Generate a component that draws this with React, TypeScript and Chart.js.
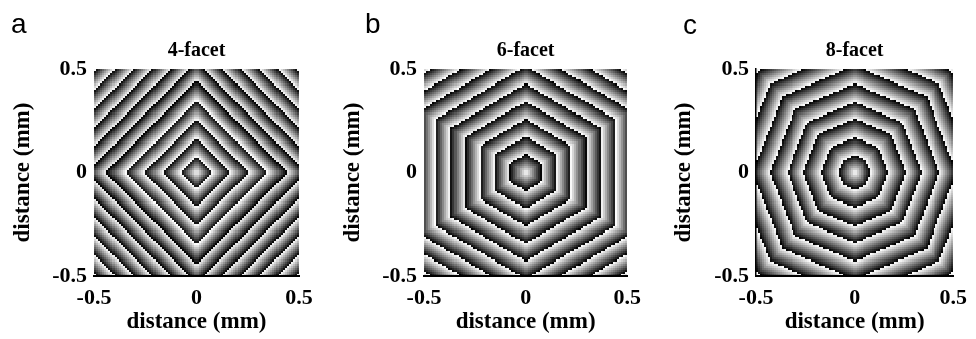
import React, { useEffect, useRef } from "react";
import { Chart, registerables } from "chart.js";

Chart.register(...registerables);

// ---------- data ----------
const PANEL_LETTERS = ["a", "b", "c"];
const PANEL_TITLES = ["4-facet", "6-facet", "8-facet"];
const FACET_COUNTS = [4, 6, 8];
// direction (deg) of one polygon vertex
const VERTEX_ANGLES_DEG = [0, 90, 0];
// ring boundaries: vertex (circum-)radius of each wrap line, in mm
const RING_EDGES_A = [0.078, 0.166, 0.256, 0.349, 0.441, 0.532, 0.623, 0.714, 0.805, 0.896, 0.987, 1.078];
const RING_EDGES_B = [0.088, 0.175, 0.258, 0.343, 0.428, 0.513, 0.598, 0.683, 0.768, 0.853];
const RING_EDGES_C = [0.083, 0.171, 0.261, 0.341, 0.430, 0.518, 0.606, 0.694, 0.782];
const RING_EDGES = [RING_EDGES_A, RING_EDGES_B, RING_EDGES_C];
const AXIS_MIN = -0.5;
const AXIS_MAX = 0.5;
const X_TICKS = [-0.5, 0, 0.5];
const Y_TICKS = [-0.5, 0, 0.5];
const TICK_LABELS = ["-0.5", "0", "0.5"];
const AXIS_TITLE = "distance (mm)";
const GRID_N = 100;

// ---------- layout / style ----------
const H = 339;
const PLOT_TOP = 69;
const PLOT_BOTTOM = 276;
const TITLE_SIZE = 20;
const TITLE_PAD_TOP = 39;
const LAYOUT = [
  { left: 0, width: 330, plotLeft: 94, plotRight: 299, letterX: 11, letterY: 33, yTitlePad: 9, letterSize: 28 },
  { left: 330, width: 320, plotLeft: 94, plotRight: 299, letterX: 35, letterY: 33, yTitlePad: 9, letterSize: 28 },
  { left: 650, width: 326, plotLeft: 106, plotRight: 311, letterX: 33, letterY: 34, yTitlePad: 20, letterSize: 28 },
];
const SERIF = "'Liberation Serif', 'Times New Roman', serif";
const SANS = "'Liberation Sans', Arial, sans-serif";

function ringBrightness(r: number, edges: number[]): number {
  let inner = 0;
  for (let i = 0; i < edges.length; i++) {
    const outer = edges[i];
    if (r < outer) return 1 - (r - inner) / (outer - inner);
    inner = outer;
  }
  return 0;
}

function buildGrid(facets: number, vertexDeg: number, edges: number[], n: number) {
  const out = new Uint8ClampedArray(n * n * 4);
  const base = (vertexDeg * Math.PI) / 180 + Math.PI / facets;
  const normals: number[][] = [];
  for (let k = 0; k < facets; k++) {
    const a = base + (2 * Math.PI * k) / facets;
    normals.push([Math.cos(a), Math.sin(a)]);
  }
  const k = 1 / Math.cos(Math.PI / facets);
  const span = AXIS_MAX - AXIS_MIN;
  for (let j = 0; j < n; j++) {
    const y = AXIS_MAX - ((j + 0.5) * span) / n;
    for (let i = 0; i < n; i++) {
      const x = AXIS_MIN + ((i + 0.5) * span) / n;
      let m = -Infinity;
      for (const [c, s] of normals) m = Math.max(m, x * c + y * s);
      const v = Math.round(ringBrightness(m * k, edges) * 255);
      const p = (j * n + i) * 4;
      out[p] = v;
      out[p + 1] = v;
      out[p + 2] = v;
      out[p + 3] = 255;
    }
  }
  return out;
}

function Panel({ index }: { index: number }) {
  const ref = useRef<HTMLCanvasElement>(null);
  const L = LAYOUT[index];
  useEffect(() => {
    const canvas = ref.current!;
    const off = document.createElement("canvas");
    off.width = GRID_N;
    off.height = GRID_N;
    const octx = off.getContext("2d")!;
    const img = octx.createImageData(GRID_N, GRID_N);
    img.data.set(buildGrid(FACET_COUNTS[index], VERTEX_ANGLES_DEG[index], RING_EDGES[index], GRID_N));
    octx.putImageData(img, 0, 0);

    const phasePlugin = {
      id: "phaseMap" + index,
      beforeDraw(chart: any) {
        const { ctx, scales } = chart;
        const x0 = scales.x.getPixelForValue(AXIS_MIN);
        const x1 = scales.x.getPixelForValue(AXIS_MAX);
        const y0 = scales.y.getPixelForValue(AXIS_MAX);
        const y1 = scales.y.getPixelForValue(AXIS_MIN);
        ctx.save();
        ctx.imageSmoothingEnabled = false;
        ctx.drawImage(off, x0, y0, x1 - x0, y1 - y0);
        ctx.restore();
      },
    };
    const letterPlugin = {
      id: "letter" + index,
      afterDraw(chart: any) {
        const ctx = chart.ctx;
        ctx.save();
        ctx.font = `normal ${L.letterSize}px ${SANS}`;
        ctx.fillStyle = "#000";
        ctx.textBaseline = "alphabetic";
        ctx.textAlign = "left";
        ctx.fillText(PANEL_LETTERS[index], L.letterX, L.letterY);
        ctx.restore();
      },
    };

    const tickFont = { family: SERIF, size: 22, weight: "bold" as const };
    const titleFont = { family: SERIF, size: 23, weight: "bold" as const };
    const label = (ticks: number[]) => (v: any) => {
      const i = ticks.indexOf(Number(v));
      return i >= 0 ? TICK_LABELS[i] : "";
    };

    const chart = new Chart(canvas, {
      type: "scatter",
      data: { datasets: [{ data: [] }] },
      options: {
        animation: false,
        responsive: false,
        devicePixelRatio: 1,
        layout: { padding: { left: 0, right: L.width - L.plotRight, top: 0, bottom: 0 } },
        plugins: {
          legend: { display: false },
          tooltip: { enabled: false },
          title: {
            display: true,
            fullSize: false,
            text: PANEL_TITLES[index],
            color: "#000",
            font: { family: SERIF, size: TITLE_SIZE, weight: "bold" },
            padding: { top: TITLE_PAD_TOP, bottom: PLOT_TOP - TITLE_PAD_TOP - TITLE_SIZE * 1.2 },
          },
        },
        scales: {
          x: {
            type: "linear",
            position: "bottom",
            min: AXIS_MIN,
            max: AXIS_MAX,
            afterBuildTicks: (s: any) => {
              s.ticks = X_TICKS.map((value) => ({ value }));
            },
            afterFit: (s: any) => {
              s.height = H - PLOT_BOTTOM;
            },
            grid: { display: false, drawTicks: false },
            border: { display: true, color: "#000", width: 2 },
            ticks: { font: tickFont, color: "#000", padding: 9, maxRotation: 0, autoSkip: false, callback: label(X_TICKS) },
            title: { display: true, text: AXIS_TITLE, color: "#000", font: titleFont, padding: { top: 0, bottom: 3 } },
          },
          y: {
            type: "linear",
            position: "left",
            min: AXIS_MIN,
            max: AXIS_MAX,
            afterBuildTicks: (s: any) => {
              s.ticks = Y_TICKS.map((value) => ({ value }));
            },
            afterFit: (s: any) => {
              s.width = L.plotLeft;
            },
            grid: { display: false, drawTicks: false },
            border: { display: index === 2, color: "#000", width: 1.5 },
            ticks: { font: tickFont, color: "#000", padding: 7, autoSkip: false, callback: label(Y_TICKS) },
            title: { display: true, text: AXIS_TITLE, color: "#000", font: titleFont, padding: { top: L.yTitlePad, bottom: 0 } },
          },
        },
      } as any,
      plugins: [phasePlugin, letterPlugin],
    });
    return () => chart.destroy();
  }, [index]);
  return (
    <canvas
      ref={ref}
      width={L.width}
      height={H}
      style={{ position: "absolute", left: L.left, top: 0, width: L.width, height: H }}
    />
  );
}

export default function App() {
  return (
    <div style={{ position: "absolute", left: 0, top: 0, width: 976, height: H, background: "#fff", overflow: "hidden" }}>
      <Panel index={0} />
      <Panel index={1} />
      <Panel index={2} />
    </div>
  );
}
